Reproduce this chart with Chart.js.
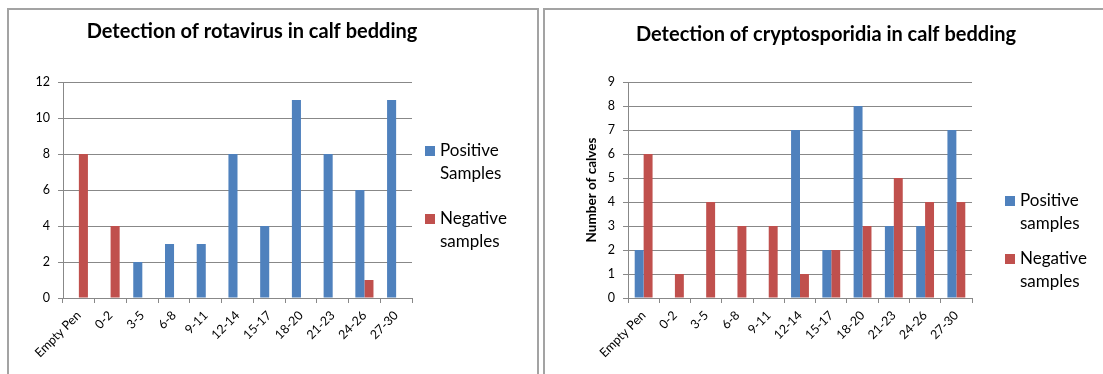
<!DOCTYPE html>
<html><head><meta charset="utf-8">
<script src="https://cdn.jsdelivr.net/npm/chart.js@4.4.0/dist/chart.umd.min.js"></script>
<style>
html,body{margin:0;padding:0;background:#fff;width:1103px;height:374px;overflow:hidden;}
.panel{position:absolute;border:2px solid #a3a3a3;box-sizing:border-box;background:#fff;overflow:hidden}
#p1{left:7px;top:8px;width:532px;height:400px}
#p2{left:543px;top:8px;width:600px;height:400px}
canvas{display:block}
</style></head><body>
<div class="panel" id="p1"><canvas id="c1" width="528" height="364"></canvas></div>
<div class="panel" id="p2"><canvas id="c2" width="558" height="364"></canvas></div>
<script>
const categories = ["Empty Pen","0-2","3-5","6-8","9-11","12-14","15-17","18-20","21-23","24-26","27-30"];
const rotaPositive = [0,0,2,3,3,8,4,11,8,6,11];
const rotaNegative = [8,4,0,0,0,0,0,0,0,1,0];
const cryptoPositive = [2,0,0,0,0,7,2,8,3,3,7];
const cryptoNegative = [6,1,4,3,3,1,2,3,5,4,4];
const rotaTitle = "Detection of rotavirus in calf bedding";
const cryptoTitle = "Detection of cryptosporidia in calf bedding";
const rotaLabels = ["Positive Samples","Negative samples"];
const cryptoLabels = ["Positive samples","Negative samples"];
const BLUE = '#4F81BD', RED = '#C0504D', GRID = '#888888';
const FONT = "Lato, 'Open Sans', sans-serif";

const decor = {
  id: 'decor',
  afterDraw(chart, args, o) {
    const ctx = chart.ctx;
    ctx.save();
    ctx.fillStyle = '#000';
    ctx.font = "bold 20px " + FONT;
    ctx.textAlign = 'center';
    ctx.textBaseline = 'middle';
    ctx.fillText(o.title, o.titleX, o.titleY);
    ctx.font = "17px " + FONT;
    ctx.textAlign = 'left';
    chart.data.datasets.forEach((ds, i) => {
      const y0 = o.itemY[i];
      ctx.fillStyle = ds.backgroundColor;
      ctx.fillRect(o.boxX, y0 - 5, 10, 10);
      ctx.fillStyle = '#000';
      ds.label.split(' ').forEach((w, j) => ctx.fillText(w, o.boxX + 15, y0 + j * o.lineH));
    });
    ctx.restore();
  }
};

function makeChart(id, pos, neg, labels, yMax, yStep, yTitle, pad, yWidth, deco) {
  return new Chart(document.getElementById(id), {
    type: 'bar',
    data: {
      labels: categories,
      datasets: [
        {label: labels[0], data: pos, backgroundColor: BLUE, borderWidth: 0, categoryPercentage: 2/3.5, barPercentage: 1},
        {label: labels[1], data: neg, backgroundColor: RED, borderWidth: 0, categoryPercentage: 2/3.5, barPercentage: 1}
      ]
    },
    options: {
      responsive: false,
      animation: false,
      layout: {padding: pad},
      plugins: {legend: {display: false}, title: {display: false}, tooltip: {enabled: false}, decor: deco},
      scales: {
        x: {
          offset: true,
          grid: {offset: true, drawOnChartArea: false, color: GRID, tickLength: 5},
          border: {color: GRID, width: 1},
          ticks: {minRotation: 45, maxRotation: 45, autoSkip: false, color: '#000', font: {family: FONT, size: 12.5}, padding: 5},
          afterFit: s => { s.height = 70; }
        },
        y: {
          min: 0, max: yMax,
          ticks: {stepSize: yStep, color: '#000', font: {family: FONT, size: 12.5}, padding: 8},
          grid: {color: GRID, tickLength: 5},
          border: {color: GRID, width: 1},
          title: {display: !!yTitle, text: yTitle || '', color: '#000', font: {family: FONT, size: 13.5, weight: 'bold'}, padding: {top: 0, bottom: 0}},
          afterFit: s => { s.width = yWidth; }
        }
      }
    },
    plugins: [decor]
  });
}

makeChart('c1', rotaPositive, rotaNegative, rotaLabels, 12, 2, null,
  {left: 0, right: 125, top: 72, bottom: 6}, 54,
  {title: rotaTitle, titleX: 243, titleY: 22, boxX: 416, itemY: [141, 209], lineH: 22.5});
makeChart('c2', cryptoPositive, cryptoNegative, cryptoLabels, 9, 1, 'Number of calves',
  {left: 39, right: 131, top: 72, bottom: 6}, 44,
  {title: cryptoTitle, titleX: 281, titleY: 25, boxX: 460, itemY: [191, 249], lineH: 22.5});
</script>
</body></html>
